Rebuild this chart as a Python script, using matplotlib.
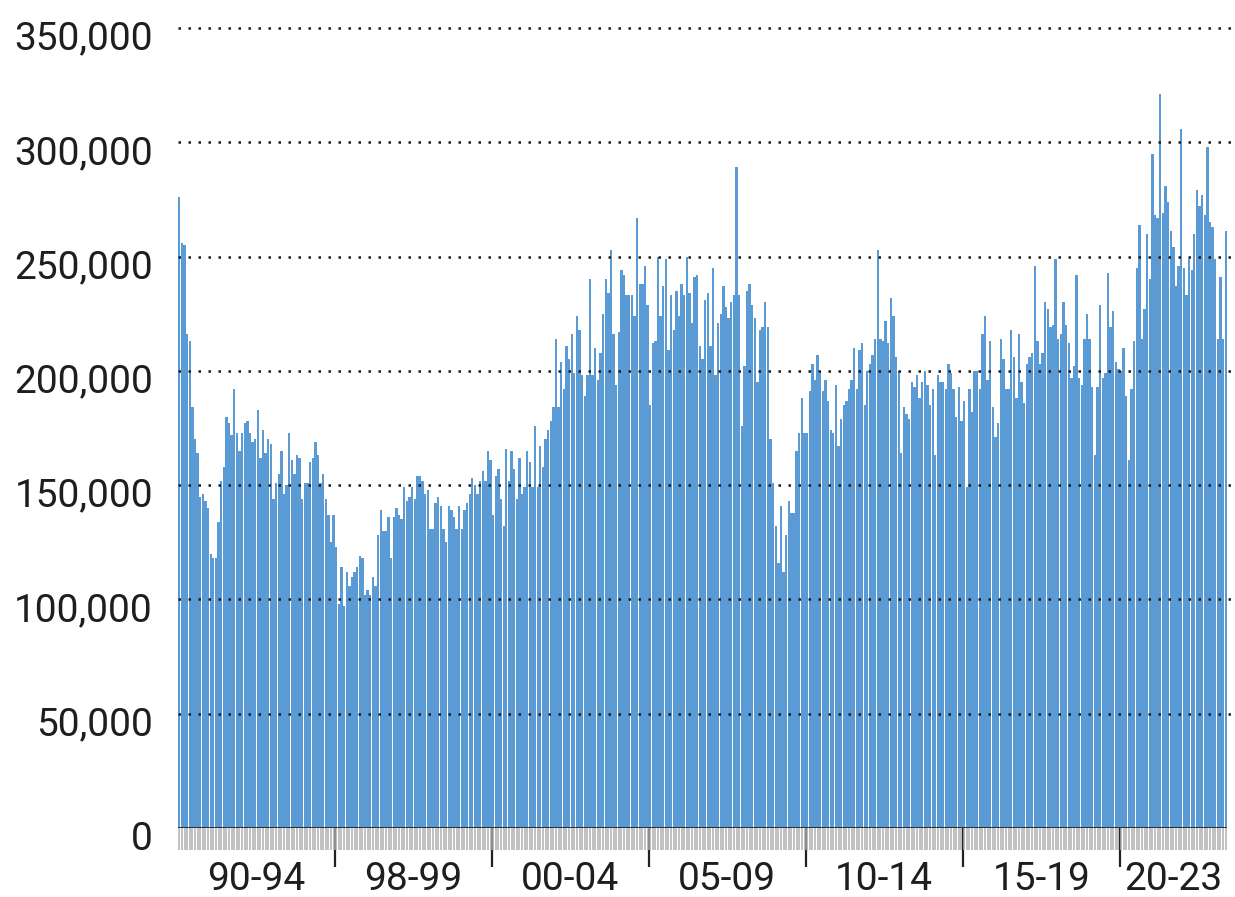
"""Monthly bar chart, 1990-2023, grouped into period blocks."""

import numpy as np
import matplotlib

matplotlib.use("Agg")
from matplotlib import pyplot as plt  # noqa: E402
from matplotlib import transforms  # noqa: E402

# values in thousands, one bar per period step
SEG_90_94 = [
    276, 256, 255, 216, 213, 184, 170, 164, 145, 146,
    143, 140, 120, 118, 118, 134, 152, 158, 180, 177,
    172, 192, 173, 165, 173, 177, 178, 173, 169, 170,
    183, 162, 174, 164, 170, 168, 144, 151, 155, 165,
    146, 150, 173, 161, 155, 163, 162, 144, 151, 151,
    160, 162, 169, 163, 151, 155, 144, 137, 125, 137,
]
SEG_98_99 = [
    123, 98, 114, 97, 112, 106, 110, 112, 114, 119,
    118, 102, 104, 102, 110, 106, 128, 139, 130, 130,
    136, 118, 136, 140, 137, 135, 149, 143, 145, 149,
    144, 154, 154, 152, 146, 148, 131, 131, 142, 145,
    141, 131, 125, 141, 139, 136, 131, 141, 131, 139,
    142, 146, 153, 150, 146, 152, 156, 152, 165, 161,
]
SEG_00_04 = [
    137, 154, 157, 144, 132, 166, 152, 165, 157, 144,
    162, 146, 149, 165, 160, 149, 176, 149, 167, 158,
    170, 174, 178, 184, 214, 184, 204, 192, 211, 205,
    216, 199, 224, 218, 198, 189, 198, 240, 198, 210,
    196, 208, 225, 240, 234, 253, 216, 194, 217, 244,
    242, 233, 233, 233, 224, 267, 238, 238, 246, 229,
]
SEG_05_09 = [
    185, 212, 213, 250, 224, 237, 249, 209, 233, 218,
    235, 224, 238, 233, 250, 234, 221, 241, 242, 211,
    205, 231, 234, 211, 245, 198, 221, 225, 237, 228,
    223, 230, 233, 289, 233, 176, 202, 235, 238, 229,
    223, 195, 218, 219, 230, 219, 170, 151, 132, 116,
    141, 112, 128, 143, 138, 138, 165, 173, 188, 173,
]
SEG_10_14 = [
    173, 191, 203, 196, 207, 200, 191, 196, 187, 174,
    173, 194, 167, 179, 185, 187, 192, 196, 210, 192,
    209, 212, 185, 200, 203, 207, 214, 253, 214, 213,
    222, 212, 232, 224, 206, 200, 164, 184, 181, 179,
    195, 193, 198, 188, 195, 200, 194, 185, 192, 163,
    198, 195, 195, 192, 203, 199, 192, 180, 193, 178,
]
SEG_15_19 = [
    187, 149, 192, 182, 200, 200, 192, 216, 224, 196,
    213, 184, 171, 177, 214, 205, 192, 192, 218, 206,
    188, 216, 195, 186, 203, 206, 208, 246, 213, 203,
    208, 230, 227, 219, 220, 249, 214, 216, 230, 220,
    212, 197, 202, 242, 197, 194, 214, 225, 214, 193,
    163, 193, 229, 197, 199, 243, 219, 226, 204, 201,
]
SEG_20_23 = [
    200, 210, 189, 161, 192, 213, 245, 264, 214, 227,
    260, 240, 295, 268, 267, 321, 269, 281, 274, 261,
    254, 237, 246, 306, 245, 233, 249, 244, 260, 279,
    272, 277, 268, 298, 265, 263, 249, 214, 241, 214,
    261,
]

SEGMENTS = [SEG_90_94, SEG_98_99, SEG_00_04, SEG_05_09, SEG_10_14, SEG_15_19, SEG_20_23]
PERIOD_LABELS = ["90-94", "98-99", "00-04", "05-09", "10-14", "15-19", "20-23"]
Y_TICKS = [0, 50000, 100000, 150000, 200000, 250000, 300000, 350000]

BAR_COLOR = "#5b9bd5"
TEXT_COLOR = "#1e1e1e"
FONT = ["Roboto", "DejaVu Sans"]

values = np.concatenate([np.asarray(s, dtype=float) for s in SEGMENTS]) * 1000
n_bars = len(values)
positions = np.arange(n_bars)
lengths = [len(s) for s in SEGMENTS]
starts = np.concatenate([[0], np.cumsum(lengths)[:-1]])
ends = np.cumsum(lengths)

fig = plt.figure(figsize=(12.35, 8.97), dpi=100)
ax = fig.add_axes([178 / 1235, 1 - 828 / 897, 1049 / 1235, 800 / 897])

ax.bar(positions, values, width=0.9, color=BAR_COLOR, linewidth=0, zorder=2)
ax.set_xlim(-0.5, n_bars - 0.5)
ax.set_ylim(0, 350000)

for level in Y_TICKS[1:]:
    ax.axhline(level, xmin=0, xmax=1.012, color="#1a1a1a", lw=1.8,
               ls=(0, (1, 3)), zorder=3, clip_on=False)
ax.axhline(0, color="#1c2833", lw=2, zorder=4)

for spine in ax.spines.values():
    spine.set_visible(False)

# period separators (major) and one small grey tick per bar (minor)
ax.set_xticks(ends[:-1] - 0.5)
ax.set_xticks(positions, minor=True)
ax.tick_params(axis="x", which="major", length=28, width=1.6, color="#222222",
               labelbottom=False)
ax.tick_params(axis="x", which="minor", length=16, width=1.1, color="#b0b0b0")

blend = transforms.blended_transform_factory(ax.transData, ax.transAxes)
for start, end, label in zip(starts, ends, PERIOD_LABELS):
    ax.text((start + end - 1) / 2, -0.0775, label, transform=blend, ha="center",
            va="baseline", fontsize=28, color=TEXT_COLOR, family=FONT)

ax.set_yticks(Y_TICKS)
ax.set_yticklabels([f"{v:,}" for v in Y_TICKS], family=FONT)
ax.tick_params(axis="y", length=0, pad=18, labelsize=28, labelcolor=TEXT_COLOR)
shift = transforms.ScaledTranslation(0, -7 / 100, fig.dpi_scale_trans)
for label in ax.get_yticklabels():
    label.set_transform(label.get_transform() + shift)

fig.savefig("out.png", dpi=100, facecolor="white")
